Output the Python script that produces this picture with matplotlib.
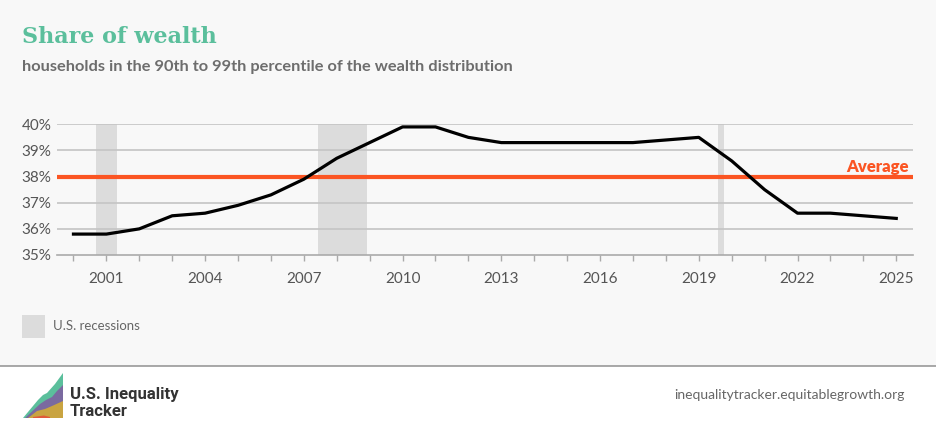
import numpy as np
import matplotlib
matplotlib.use('Agg')
import matplotlib.pyplot as plt
from matplotlib.patches import Polygon, Rectangle
from matplotlib.lines import Line2D

years = list(range(2000, 2026))
share = [35.8, 35.8, 36.0, 36.5, 36.6, 36.9, 37.3, 37.9, 38.7, 39.3,
         39.9, 39.9, 39.5, 39.3, 39.3, 39.3, 39.3, 39.3, 39.4, 39.5,
         38.6, 37.5, 36.6, 36.6, 36.5, 36.4]
average = 38.0
recessions = [(2000.67, 2001.33), (2007.42, 2008.92), (2019.58, 2019.78)]
tick_years = [2001, 2004, 2007, 2010, 2013, 2016, 2019, 2022, 2025]
y_ticks = [35, 36, 37, 38, 39, 40]

plt.rcParams['font.family'] = ['Lato', 'DejaVu Sans']

W, H = 936, 424
fig = plt.figure(figsize=(W / 100, H / 100), dpi=100)
fig.patch.set_facecolor('#f8f8f8')

# footer band
fig.patches.append(Rectangle((0, 0), 1, 1 - 366 / H, transform=fig.transFigure,
                             facecolor='white', edgecolor='none', zorder=0))
fig.lines.append(Line2D([0, 1], [1 - 366 / H] * 2, transform=fig.transFigure,
                        color='#999999', lw=1.2))

ax = fig.add_axes([57 / W, 1 - 255 / H, (912.7 - 57) / W, (255 - 124.3) / H])
ax.set_facecolor('#f8f8f8')

for a, b in recessions:
    ax.axvspan(a, b, color='#dcdcdc', lw=0, zorder=1)

for v in y_ticks[1:]:
    ax.axhline(v, color='#c4c4c4', lw=1.2, zorder=2)

ax.axhline(average, color='#fb5523', lw=3, zorder=3)
ax.text(2025.38, average + 0.16, 'Average', color='#fb5523', fontsize=12,
        fontweight='heavy', ha='right', va='baseline', zorder=4)

ax.plot(years, share, color='black', lw=2.3, zorder=5, solid_joinstyle='round')

ax.set_xlim(1999.5, 2025.5)
ax.set_ylim(35, 40)
ax.set_yticks(y_ticks)
ax.set_yticklabels([f'{v}%' for v in y_ticks])
ax.set_xticks(tick_years)
ax.set_xticklabels([str(y) for y in tick_years])
ax.set_xticks(years, minor=True)

for s in ['top', 'right', 'left']:
    ax.spines[s].set_visible(False)
ax.spines['bottom'].set_color('#aaaaaa')
ax.spines['bottom'].set_linewidth(1.2)
ax.tick_params(axis='y', length=0, pad=4, labelsize=11, labelcolor='#555555')
ax.tick_params(axis='x', which='both', length=4, color='#aaaaaa', width=1,
               labelsize=11, labelcolor='#555555', pad=8)

# titles
fig.text(22 / W, 1 - 37 / H, 'Share of wealth', color='#5bbf9c', fontsize=16,
         fontweight='bold', family=['DejaVu Serif'], va='center', ha='left')
fig.text(22 / W, 1 - 67 / H,
         'households in the 90th to 99th percentile of the wealth distribution',
         color='#6d6d6d', fontsize=11.75, fontweight='bold', va='center', ha='left')

# legend
fig.patches.append(Rectangle((22 / W, 1 - 338 / H), 23 / W, 23 / H,
                             transform=fig.transFigure, facecolor='#dcdcdc',
                             edgecolor='none'))
fig.text(53 / W, 1 - 326 / H, 'U.S. recessions', color='#666666', fontsize=9.5,
         va='center', ha='left')

# footer logo
def fp(pts):
    return [(x / W, 1 - y / H) for x, y in pts]

logo = [
    ('#5bbf9c', [(23, 418), (38, 400), (43, 395), (47, 393), (55, 384), (63, 373), (63, 418)]),
    ('#7a6aa0', [(25, 418), (40, 404), (46, 400), (52, 397), (57, 391), (63, 385), (63, 418)]),
    ('#c9a441', [(28, 418), (37, 411), (45, 409), (52, 406), (63, 401), (63, 418)]),
    ('#e05a3a', [(33, 417), (44, 415.5), (50, 417), (50, 418), (33, 418)]),
]
for c, pts in logo:
    fig.patches.append(Polygon(fp(pts), closed=True, transform=fig.transFigure,
                               facecolor=c, edgecolor='none'))
fig.text(70 / W, 1 - 395 / H, 'U.S. Inequality', color='#333333', fontsize=12,
         fontweight='bold', va='center', ha='left', family=['Roboto', 'DejaVu Sans'])
fig.text(70 / W, 1 - 411 / H, 'Tracker', color='#333333', fontsize=12,
         fontweight='bold', va='center', ha='left', family=['Roboto', 'DejaVu Sans'])
fig.text(905 / W, 1 - 395 / H, 'inequalitytracker.equitablegrowth.org',
         color='#666666', fontsize=10, va='center', ha='right')

fig.savefig('out.png', dpi=100, facecolor=fig.get_facecolor())
